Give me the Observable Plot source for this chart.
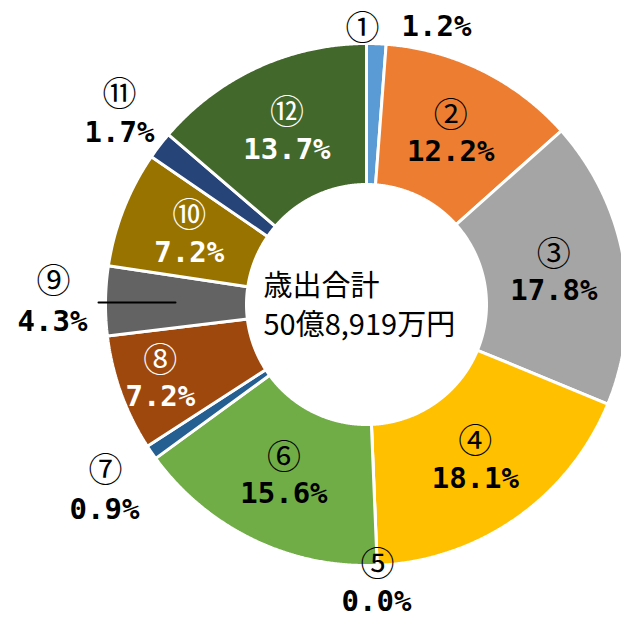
<!DOCTYPE html>
<html>
<head>
<meta charset="utf-8">
<script src="https://cdn.jsdelivr.net/npm/d3@7"></script>
<script src="https://cdn.jsdelivr.net/npm/@observablehq/plot@0.6"></script>
<style>
  html, body { margin: 0; padding: 0; background: #fff; }
  svg { display: block; }
</style>
</head>
<body>
<div id="chart"></div>
<script>
// ---- data ----
const categories = ["①","②","③","④","⑤","⑥","⑦","⑧","⑨","⑩","⑪","⑫"];
const values = [1.2, 12.2, 17.8, 18.1, 0.0, 15.6, 0.9, 7.2, 4.3, 7.2, 1.7, 13.7];
const centerTitle = ["歳出合計", "50億8,919万円"];

// ---- styles / layout ----
const colors = ["#5B9BD5","#ED7D31","#A5A5A5","#FFC000","#4472C4","#70AD47",
                "#255E91","#9E480E","#636363","#997300","#264478","#43682B"];
const labelColors = ["#000","#000","#000","#000","#000","#000",
                     "#000","#fff","#000","#fff","#000","#fff"];
const W = 621, H = 619;
const cx = 366, cy = 304, R = 261, r0 = 120;
// label placement: inside (radius factor) or outside (explicit anchor, circled/percent)
const inside = {1: 0.728, 2: 0.728, 3: 0.728, 5: 0.728, 7: 0.84, 9: 0.73, 11: 0.73};
const outside = {
  0: {c: [362, 29], p: [436, 26]},
  4: {c: [377, 565], p: [376, 601]},
  6: {c: [105, 471], p: [104, 509]},
  8: {c: [53, 282], p: [52, 321]},
  10: {c: [119, 95], p: [119, 132]}
};

const arcs = d3.pie().sort(null).value(d => d)(values);

// slice polygons (ring sectors), in chart coordinates
const poly = [];
arcs.forEach((a, i) => {
  const n = Math.max(2, Math.ceil((a.endAngle - a.startAngle) / 0.005));
  for (let k = 0; k <= n; k++) {
    const t = a.startAngle + (a.endAngle - a.startAngle) * k / n;
    poly.push({i, color: colors[i], x: cx + R * Math.sin(t), y: cy - R * Math.cos(t)});
  }
  for (let k = n; k >= 0; k--) {
    const t = a.startAngle + (a.endAngle - a.startAngle) * k / n;
    poly.push({i, color: colors[i], x: cx + r0 * Math.sin(t), y: cy - r0 * Math.cos(t)});
  }
});

const circ = [], pct = [];
arcs.forEach((a, i) => {
  const text = values[i].toFixed(1) + "%";
  if (inside[i] !== undefined) {
    const m = (a.startAngle + a.endAngle) / 2;
    const rr = R * inside[i];
    const x = cx + rr * Math.sin(m), y = cy - rr * Math.cos(m);
    circ.push({x, y: y - 18, t: categories[i], c: labelColors[i]});
    pct.push({x, y: y + 18, t: text, c: labelColors[i]});
  } else {
    const o = outside[i];
    circ.push({x: o.c[0], y: o.c[1], t: categories[i], c: "#000"});
    pct.push({x: o.p[0], y: o.p[1], t: text, c: "#000"});
  }
});

const leader = [{x: 98, y: 302}, {x: 175, y: 302}];

const chart = Plot.plot({
  width: W, height: H,
  margin: 0,
  x: {domain: [0, W], range: [0, W], axis: null},
  y: {domain: [0, H], range: [0, H], axis: null},
  color: {type: "identity"},
  style: {background: "#fff"},
  marks: [
    Plot.line(poly, {x: "x", y: "y", z: "i", fill: "color", stroke: "white",
                     strokeWidth: 3, curve: "linear-closed", strokeLinejoin: "miter"}),
    Plot.line(leader, {x: "x", y: "y", stroke: "#000", strokeWidth: 2}),
    Plot.text(circ, {x: "x", y: "y", text: "t", fill: "c", fontSize: 34,
                     fontFamily: "Noto Sans CJK JP", textAnchor: "middle", lineAnchor: "middle"}),
    Plot.text(pct, {x: "x", y: "y", text: "t", fill: "c", fontSize: 29, fontWeight: "bold",
                    fontFamily: "DejaVu Sans Mono", textAnchor: "middle", lineAnchor: "middle"}),
    Plot.text([centerTitle[0]], {x: () => 263, y: () => 286, text: d => d, fontSize: 29,
                    fontFamily: "Noto Sans CJK JP", textAnchor: "start", lineAnchor: "middle", fill: "#000"}),
    Plot.text([centerTitle[1]], {x: () => 263, y: () => 325, text: d => d, fontSize: 29,
                    fontFamily: "Noto Sans CJK JP", textAnchor: "start", lineAnchor: "middle", fill: "#000"})
  ]
});
document.getElementById("chart").appendChild(chart);
</script>
</body>
</html>
